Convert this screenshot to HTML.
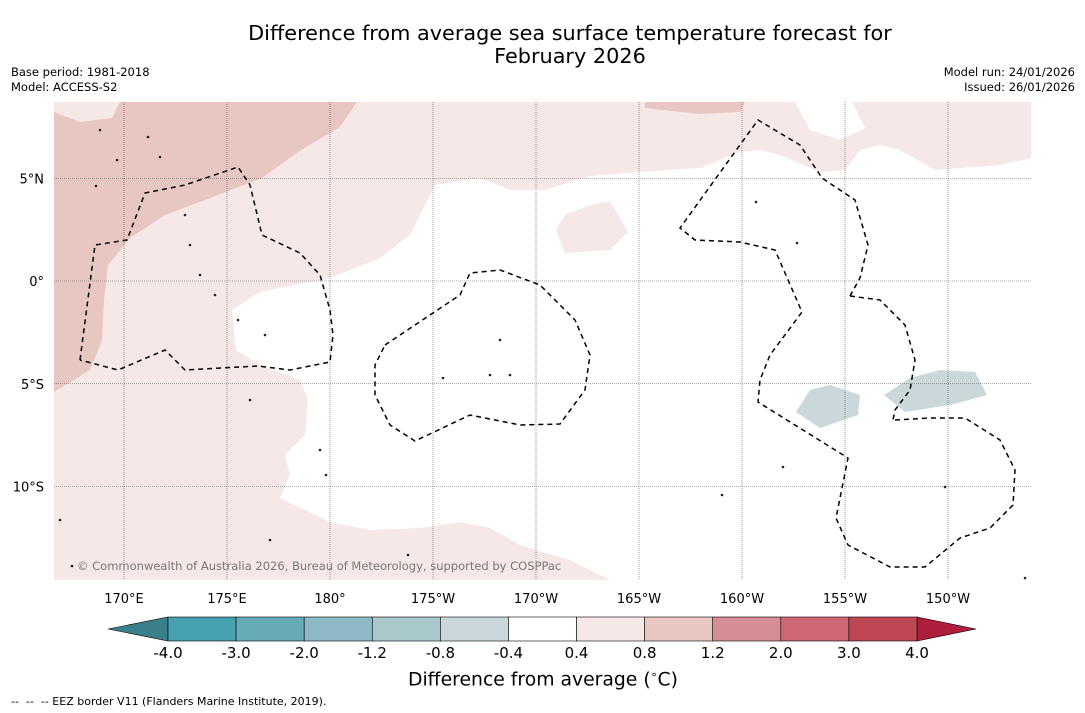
<!DOCTYPE html>
<html><head><meta charset="utf-8"><style>
body{margin:0;background:#fff;font-family:"DejaVu Sans","Liberation Sans",sans-serif;}
#wrap{position:relative;width:1085px;height:713px;overflow:hidden;background:#fff}
.t{position:absolute;white-space:nowrap;color:#000}
svg text{font-family:"DejaVu Sans","Liberation Sans",sans-serif;}
</style></head><body>
<div id="wrap">
<div class="t" style="left:0;width:1140px;text-align:center;top:22px;font-size:20.8px;line-height:23px">Difference from average sea surface temperature forecast for<br>February 2026</div>
<div class="t" style="left:11px;top:65px;font-size:11.5px;line-height:15px">Base period: 1981-2018<br>Model: ACCESS-S2</div>
<div class="t" style="right:10px;top:65px;font-size:11.5px;line-height:15px;text-align:right">Model run: 24/01/2026<br>Issued: 26/01/2026</div>
<svg id="svg" width="1085" height="713" style="position:absolute;left:0;top:0"></svg>
<div class="t" style="left:408px;top:668px;font-size:18.8px">Difference from average (<sup style="font-size:11px">∘</sup>C)</div>
<div class="t" style="left:11px;top:695px;font-size:11px">-- &nbsp;-- &nbsp;-- EEZ border V11 (Flanders Marine Institute, 2019).</div>
</div>
<script>
const lonTicks=[170,175,180,185,190,195,200,205,210];
const lonLabels=["170°E","175°E","180°","175°W","170°W","165°W","160°W","155°W","150°W"];
const latTicks=[5,0,-5,-10];
const latLabels=["5°N","0°","5°S","10°S"];
const cbLevels=["-4.0","-3.0","-2.0","-1.2","-0.8","-0.4","0.4","0.8","1.2","2.0","3.0","4.0"];
const cbColors=["#48a1b1","#67abb8","#8cb9c4","#a9c8cc","#cad8dc","#ffffff","#f5e8e6","#e8c7c2","#d68d96","#cc6873","#be4756"];
const X0=54,X1=1031,Y0=102,Y1=580;
function px(lon){return 124+(lon-170)*20.6;}
function py(lat){return 281-lat*20.55;}
function lon(x){return 170+(x-124)/20.6;}
function lat(y){return (281-y)/20.55;}
function P(a){const o=[];for(let i=0;i<a.length;i+=2)o.push([lon(a[i]),lat(a[i+1])]);return o;}
const pinkLight=P([54,102,1031,102,1031,580,54,580]);
const whiteArea=P([232,310,260,292,330,278,380,258,410,235,435,185,480,178,510,190,545,190,590,176,640,172,700,168,740,152,760,150,780,155,820,172,845,170,860,150,880,145,900,150,935,170,1000,165,1031,158,1031,580,610,580,570,560,520,545,490,528,460,522,420,528,370,530,330,522,280,498,290,475,285,455,305,435,308,400,300,380,260,365,236,350]);
const whiteNotch=P([795,102,810,130,840,140,865,128,852,102]);
const pinkIsland=P([556,230,565,215,590,205,610,201,628,232,610,250,565,253]);
const pinkDark=P([54,102,357,102,340,127,298,152,262,178,205,200,165,215,130,238,108,265,104,300,102,340,90,370,54,392]);
const whiteCorner=P([54,112,54,102,120,102,112,118,80,122]);
const pinkDarkTop=P([645,102,745,102,740,112,700,114,645,108]);
const blue1=P([796,412,810,390,830,385,860,395,858,415,820,428]);
const blue2=P([884,395,910,378,940,370,975,372,987,395,950,405,905,412]);
const eezA=P([80,360,95,245,127,240,145,193,185,185,238,167,250,185,262,235,300,253,320,275,330,310,333,335,330,362,290,370,258,366,185,370,165,350,118,370,80,360]);
const eezB=P([385,345,460,295,470,273,500,270,540,285,575,320,590,355,585,390,560,424,520,425,470,415,415,441,390,425,375,395,375,365,385,345]);
const eezC=P([850,296,860,278,868,245,855,200,822,178,800,145,758,120,680,228,695,240,740,242,775,250,802,312,770,355,760,380,758,402,848,458,836,518,848,545,890,567,925,567,960,538,990,528,1013,505,1015,470,1000,440,965,418,930,418,895,420]);
const eezD=P([850,296,880,300,905,325,915,360,910,390,895,410,893,420]);
const islands=P([100,130,117,160,160,157,185,215,190,245,200,275,215,295,238,320,250,400,265,335,320,450,326,475,408,555,500,340,510,375,443,378,490,375,722,495,756,202,797,243,783,467,945,487,60,520,72,566,270,540,1025,578,148,137,96,186]);
const svg=document.getElementById('svg');
const NS='http://www.w3.org/2000/svg';
function mk(t,a,parent){const e=document.createElementNS(NS,t);for(const k in a)e.setAttribute(k,a[k]);(parent||svg).appendChild(e);return e;}
function pts(a){return a.map(p=>px(p[0]).toFixed(1)+','+py(p[1]).toFixed(1)).join(' ');}
const cpth=mk('clipPath',{id:'clip'});
mk('rect',{x:X0,y:Y0,width:X1-X0,height:Y1-Y0},cpth);
const g=mk('g',{'clip-path':'url(#clip)'});


const fills=[[pinkLight,'#f5e8e6','anomaly-0.4-0.8'],[whiteArea,'#ffffff','anomaly-near-zero'],[whiteNotch,'#ffffff','anomaly-near-zero-notch'],[pinkIsland,'#f5e8e6','anomaly-pink-patch'],[pinkDark,'#e8c7c2','anomaly-0.8-1.2'],[whiteCorner,'#f5e8e6','anomaly-corner'],[pinkDarkTop,'#e8c7c2','anomaly-0.8-1.2-top'],[blue1,'#cad8dc','anomaly-cool-patch-1'],[blue2,'#cad8dc','anomaly-cool-patch-2']];
fills.forEach(f=>{const e=mk('polygon',{points:pts(f[0]),fill:f[1],stroke:'none'},g);

});
lonTicks.forEach((l,i)=>{const e=mk('line',{x1:px(l),x2:px(l),y1:Y0,y2:Y1,stroke:'#555','stroke-width':0.6,'stroke-dasharray':'1,1'},g);


const t=mk('text',{x:px(l),y:603,'font-size':13,'text-anchor':'middle'});t.textContent=lonLabels[i];

});
latTicks.forEach((l,i)=>{const e=mk('line',{x1:X0,x2:X1,y1:py(l),y2:py(l),stroke:'#555','stroke-width':0.6,'stroke-dasharray':'1,1'},g);


const t=mk('text',{x:44,y:py(l)+5,'font-size':13,'text-anchor':'end'});t.textContent=latLabels[i];

});
[eezA,eezB,eezC,eezD].forEach((a,i)=>{const e=mk('polyline',{points:pts(a),fill:'none',stroke:'#000','stroke-width':1.5,'stroke-dasharray':'5,4'},g);

});
islands.forEach(p=>{const e=mk('circle',{cx:px(p[0]),cy:py(p[1]),r:1.3,fill:'#222'},g);

});
const cp=mk('text',{x:77,y:570,'font-size':11.5,fill:'#777'},g);cp.textContent='© Commonwealth of Australia 2026, Bureau of Meteorology, supported by COSPPac';


const cbX0=168,cbX1=917,cbY=617,cbH=24,n=cbColors.length,w=(cbX1-cbX0)/n;
const lt=mk('polygon',{points:`108,629 ${cbX0},${cbY} ${cbX0},${cbY+cbH}`,fill:'#3a7f89',stroke:'#000','stroke-width':0.6});


const rt=mk('polygon',{points:`976,629 ${cbX1},${cbY} ${cbX1},${cbY+cbH}`,fill:'#ad1e3c',stroke:'#000','stroke-width':0.6});


cbColors.forEach((c,i)=>{const r=mk('rect',{x:cbX0+i*w,y:cbY,width:w,height:cbH,fill:c,stroke:'#000','stroke-width':0.6});

});
cbLevels.forEach((s,i)=>{const t=mk('text',{x:cbX0+i*w,y:658,'font-size':15,'text-anchor':'middle'});t.textContent=s;

});
</script>
</body></html>
